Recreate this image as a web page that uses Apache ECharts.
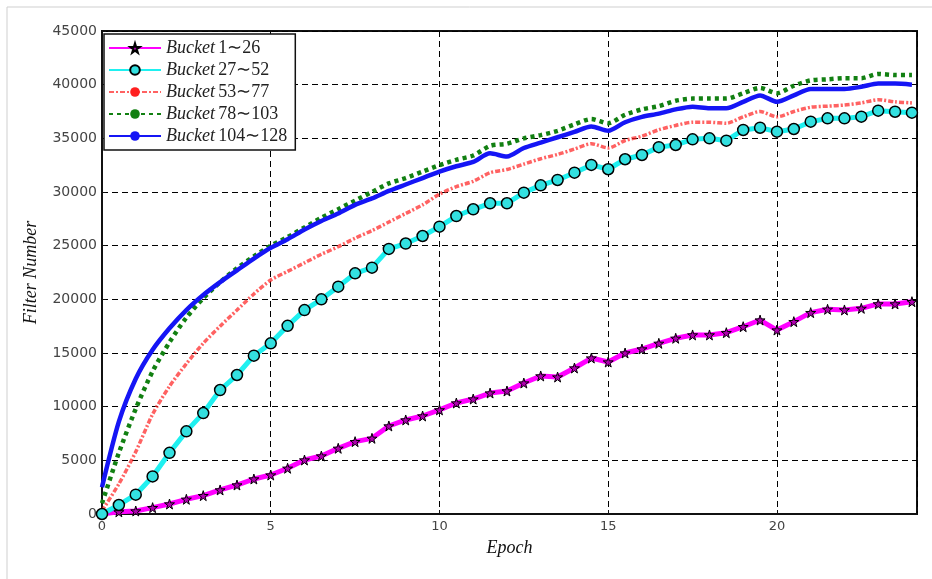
<!DOCTYPE html>
<html lang="en">

<head>
  <meta charset="UTF-8">
  <title>Filter Number vs Epoch</title>
  <script src="https://cdn.jsdelivr.net/npm/echarts@6/dist/echarts.min.js"></script>
  <style>
    html, body { margin: 0; padding: 0; background: #fff; }
  </style>
</head>

<body>
  <div id="main" style="width: 932px;height:579px"></div>
  <script>
    // x 轴: epoch, 每 0.5 一个点
    var epochs = [0, 0.5, 1, 1.5, 2, 2.5, 3, 3.5, 4, 4.5, 5, 5.5, 6, 6.5, 7, 7.5, 8, 8.5, 9, 9.5,
      10, 10.5, 11, 11.5, 12, 12.5, 13, 13.5, 14, 14.5, 15, 15.5, 16, 16.5, 17, 17.5, 18, 18.5, 19, 19.5,
      20, 20.5, 21, 21.5, 22, 22.5, 23, 23.5, 24]

    var seriesNames = ['Bucket 1∼26', 'Bucket 27∼52', 'Bucket 53∼77', 'Bucket 78∼103', 'Bucket 104∼128']

    var bucket1 = [0, 200, 280, 590, 930, 1370, 1710, 2240, 2700, 3260, 3630, 4260, 5030, 5400, 6120, 6740, 7050, 8200, 8760, 9130,
      9700, 10340, 10710, 11270, 11460, 12200, 12860, 12760, 13600, 14530, 14160, 15000, 15370, 15900, 16370, 16680, 16680, 16890, 17450, 18070,
      17140, 17920, 18760, 19070, 19010, 19160, 19570, 19570, 19780]

    var bucket27 = [0, 840, 1800, 3500, 5700, 7700, 9400, 11550, 12950, 14750, 15900, 17530, 19000, 20000, 21180, 22420, 22950, 24700, 25200, 25900,
      26770, 27760, 28390, 28950, 28950, 29940, 30620, 31120, 31800, 32520, 32120, 33050, 33450, 34180, 34380, 34910, 35000, 34780, 35780, 35990,
      35620, 35870, 36550, 36860, 36860, 37020, 37580, 37480, 37390]

    var bucket53 = [300, 2800, 5800, 9300, 11900, 14000, 15900, 17500, 19000, 20500, 21800, 22600, 23400, 24200, 24900, 25700, 26400, 27200, 28000, 28800,
      29800, 30500, 31000, 31800, 32100, 32600, 33100, 33500, 34000, 34500, 34100, 34800, 35200, 35800, 36200, 36500, 36500, 36400, 37000, 37500,
      37000, 37500, 37900, 38000, 38100, 38300, 38600, 38400, 38300]

    var bucket78 = [1000, 5700, 9800, 13300, 16000, 18300, 20100, 21600, 22900, 24000, 25000, 25800, 26700, 27600, 28400, 29200, 30000, 30800, 31300, 31900,
      32500, 33000, 33400, 34300, 34500, 35000, 35300, 35700, 36300, 36800, 36400, 37200, 37700, 38000, 38500, 38700, 38700, 38700, 39200, 39700,
      39200, 39900, 40400, 40500, 40600, 40600, 41000, 40900, 40900]

    var bucket104 = [2500, 8600, 12600, 15300, 17300, 19000, 20400, 21600, 22700, 23800, 24800, 25600, 26500, 27300, 28000, 28800, 29400, 30100, 30700, 31300,
      31900, 32400, 32800, 33600, 33300, 34100, 34600, 35100, 35600, 36100, 35700, 36500, 37000, 37300, 37700, 37950, 37800, 37800, 38400, 39000,
      38400, 39000, 39600, 39600, 39600, 39800, 40100, 40100, 40000]

    var yTicks = [0, 5000, 10000, 15000, 20000, 25000, 30000, 35000, 40000, 45000]

    function pairs(values) {
      return epochs.map(function (e, i) { return [e, values[i]] })
    }

    var starPath = 'path://M50,0 L61,35 L98,35 L68,57 L79,91 L50,70 L21,91 L32,57 L2,35 L39,35 Z'
    var serif = 'Liberation Serif'

    var mCharts = echarts.init(document.getElementById('main'))
    var option = {
      animation: false,
      backgroundColor: '#fff',
      // 外框的浅灰线
      graphic: [
        { type: 'line', shape: { x1: 7, y1: 7, x2: 932, y2: 7 }, style: { stroke: '#cfcfcf', lineWidth: 1 } },
        { type: 'line', shape: { x1: 7, y1: 7, x2: 7, y2: 579 }, style: { stroke: '#cfcfcf', lineWidth: 1 } }
      ],
      grid: {
        left: 102,
        right: 15,
        top: 31,
        bottom: 65,
        show: true,
        borderColor: '#111',
        borderWidth: 2
      },
      legend: {
        data: seriesNames,
        orient: 'vertical',
        left: 104,
        top: 34,
        itemWidth: 52,
        itemHeight: 12,
        itemGap: 4,
        padding: [5, 8, 5, 4],
        borderColor: '#111',
        borderWidth: 1.5,
        backgroundColor: '#fff',
        formatter: function (name) {
          var parts = name.split(' ')
          return '{i|' + parts[0] + '} {n|' + parts[1] + '}'
        },
        textStyle: {
          color: '#111',
          rich: {
            i: { fontFamily: serif, fontStyle: 'italic', fontSize: 18, color: '#222' },
            n: { fontFamily: serif, fontSize: 18, color: '#222' }
          }
        }
      },
      xAxis: {
        type: 'value',
        min: 0,
        max: 24.15,
        interval: 5,
        name: 'Epoch',
        nameLocation: 'middle',
        nameGap: 25,
        nameTextStyle: { fontFamily: serif, fontStyle: 'italic', fontSize: 18, color: '#111' },
        axisLine: { show: true, lineStyle: { color: '#111', width: 2 } },
        axisTick: { show: true, inside: true, length: 4, lineStyle: { color: '#111' } },
        axisLabel: { showMaxLabel: false, fontFamily: 'DejaVu Sans', fontSize: 13, color: '#444', margin: 6 },
        splitLine: { show: true, lineStyle: { color: '#000', width: 1, type: [6, 4] } }
      },
      yAxis: {
        type: 'value',
        min: yTicks[0],
        max: yTicks[yTicks.length - 1],
        interval: 5000,
        name: 'Filter Number',
        nameLocation: 'middle',
        nameGap: 62,
        nameTextStyle: { fontFamily: serif, fontStyle: 'italic', fontSize: 18, color: '#111' },
        axisLine: { show: true, lineStyle: { color: '#111', width: 2 } },
        axisTick: { show: true, inside: true, length: 4, lineStyle: { color: '#111' } },
        axisLabel: {
          fontFamily: 'DejaVu Sans', fontSize: 14, color: '#444', margin: 5,
          formatter: function (v) { return String(v) }
        },
        splitLine: { show: true, lineStyle: { color: '#000', width: 1, type: [6, 4] } }
      },
      series: [
        {
          name: seriesNames[0],
          type: 'line',
          data: pairs(bucket1),
          symbol: starPath,
          symbolSize: 10,
          lineStyle: { color: '#ff00ff', width: 5 },
          itemStyle: { color: '#b000b0', borderColor: '#000', borderWidth: 1 }
        },
        {
          name: seriesNames[1],
          type: 'line',
          data: pairs(bucket27),
          symbol: 'circle',
          symbolSize: 11,
          lineStyle: { color: '#1ff0f0', width: 5 },
          itemStyle: { color: '#33e0e0', borderColor: '#000', borderWidth: 1.5 }
        },
        {
          name: seriesNames[2],
          type: 'line',
          data: pairs(bucket53),
          smooth: 0.25,
          showSymbol: false,
          symbol: 'none',
          lineStyle: { color: '#ff2020', width: 3.5, type: [5, 2, 2, 2], opacity: 0.7 },
          itemStyle: { color: '#ff2020' }
        },
        {
          name: seriesNames[3],
          type: 'line',
          data: pairs(bucket78),
          smooth: 0.25,
          showSymbol: false,
          symbol: 'none',
          lineStyle: { color: '#128012', width: 4.5, type: [4, 4] },
          itemStyle: { color: '#128012' }
        },
        {
          name: seriesNames[4],
          type: 'line',
          data: pairs(bucket104),
          smooth: 0.25,
          showSymbol: false,
          symbol: 'none',
          lineStyle: { color: '#1515f5', width: 4.5 },
          itemStyle: { color: '#1515f5' }
        }
      ]
    }
    mCharts.setOption(option)
  </script>
</body>

</html>
